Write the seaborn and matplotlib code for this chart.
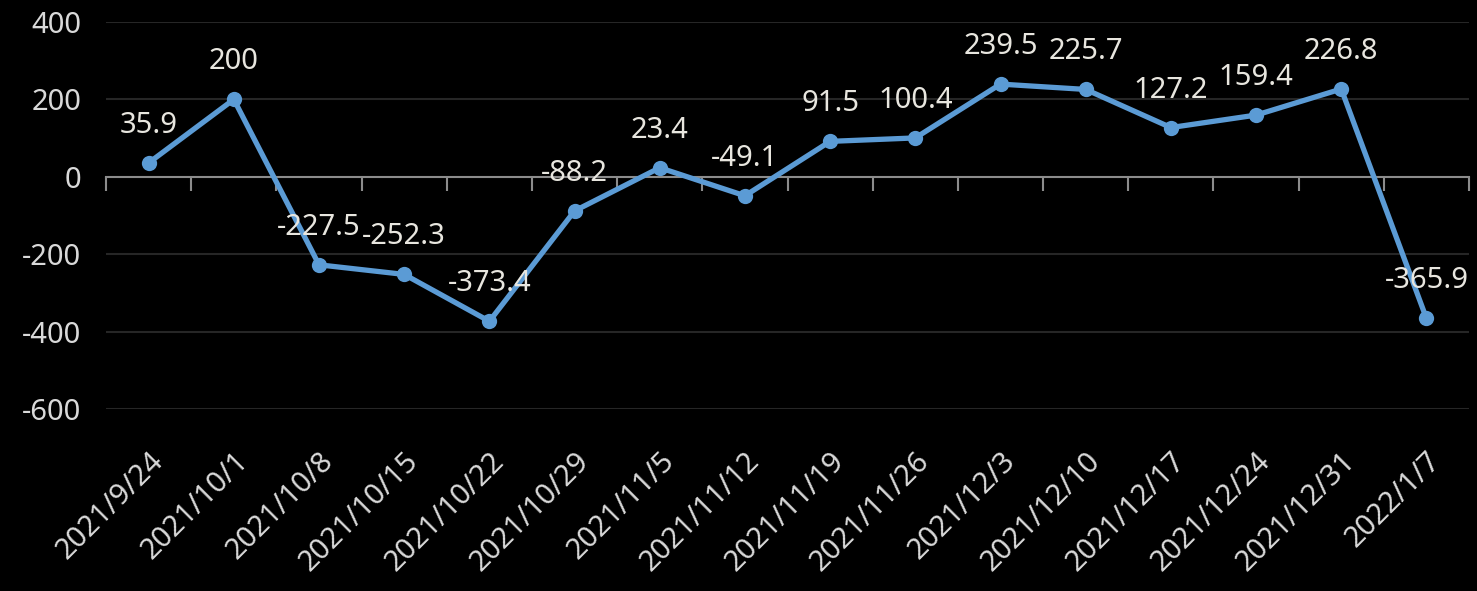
import matplotlib
matplotlib.use("Agg")
import matplotlib.pyplot as plt
import seaborn as sns
import pandas as pd
import numpy as np

dates = ["2021/9/24", "2021/10/1", "2021/10/8", "2021/10/15", "2021/10/22",
         "2021/10/29", "2021/11/5", "2021/11/12", "2021/11/19", "2021/11/26",
         "2021/12/3", "2021/12/10", "2021/12/17", "2021/12/24", "2021/12/31",
         "2022/1/7"]
values = [35.9, 200, -227.5, -252.3, -373.4, -88.2, 23.4, -49.1, 91.5, 100.4,
          239.5, 225.7, 127.2, 159.4, 226.8, -365.9]
value_labels = ["35.9", "200", "-227.5", "-252.3", "-373.4", "-88.2", "23.4", "-49.1",
                "91.5", "100.4", "239.5", "225.7", "127.2", "159.4", "226.8", "-365.9"]
y_ticks = [-600, -400, -200, 0, 200, 400]

sns.set_theme(style="dark")
plt.rcParams["font.family"] = ["Noto Sans", "DejaVu Sans"]

df = pd.DataFrame({"idx": np.arange(len(dates)), "value": values})

fig = plt.figure(figsize=(14.77, 5.91), dpi=100, facecolor="black")
ax = fig.add_axes([0.0718, 0.308, 0.9228, 0.6548])
ax.set_facecolor("black")

line_color = "#5B9BD5"
text_color = "#d9d9d9"

for yv in y_ticks:
    if yv != 0:
        ax.axhline(yv, color="#262626", lw=1.5, zorder=0)

sns.lineplot(data=df, x="idx", y="value", ax=ax, color=line_color, lw=3.8,
             marker="o", markersize=11, markeredgewidth=0, markerfacecolor=line_color,
             zorder=3)

ax.set_xlim(-0.5, len(dates) - 0.5)
ax.set_ylim(-600, 400)
ax.set_yticks(y_ticks)
ax.set_yticklabels([str(v) for v in y_ticks], color=text_color, fontsize=21)
ax.tick_params(axis="y", length=0, pad=18)

ax.set_xticks(np.arange(len(dates)))
ax.set_xticklabels(dates, rotation=45, ha="right", rotation_mode="anchor",
                   color=text_color, fontsize=21)
ax.tick_params(axis="x", length=0, pad=27)
ax.set_xlabel("")
ax.set_ylabel("")
for s in ax.spines.values():
    s.set_visible(False)
ax.grid(False)

# zero axis line with category-boundary ticks
sec = ax.secondary_xaxis(0.6)
sec.set_xticks(np.arange(-0.5, len(dates), 1.0))
sec.set_xticklabels([])
sec.tick_params(axis="x", direction="in", length=10, width=1.5, color="#8c8c8c")
for name, s in sec.spines.items():
    s.set_visible(name == "bottom")
sec.spines["bottom"].set_color("#8c8c8c")
sec.spines["bottom"].set_linewidth(1.5)

for i, (v, lab) in enumerate(zip(values, value_labels)):
    ax.annotate(lab, (i, v), xytext=(0, 27), textcoords="offset points",
                ha="center", va="center", color="#e8e6df", fontsize=21, zorder=4)

fig.savefig("out.png", dpi=100, facecolor="black")
